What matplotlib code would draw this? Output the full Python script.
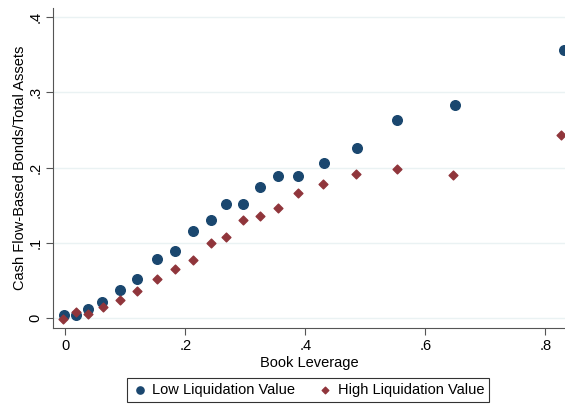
import matplotlib
matplotlib.use('Agg')
import matplotlib.pyplot as plt

plt.rcParams['font.family'] = ['Liberation Sans', 'DejaVu Sans']

# binned scatter: book leverage vs cash flow-based bonds / total assets
low_x = [-0.002, 0.018, 0.037, 0.061, 0.091, 0.119, 0.152, 0.183, 0.213, 0.242,
         0.268, 0.296, 0.325, 0.355, 0.388, 0.431, 0.486, 0.553, 0.650, 0.831]
low_y = [0.004, 0.004, 0.012, 0.021, 0.038, 0.052, 0.079, 0.090, 0.116, 0.130,
         0.152, 0.152, 0.174, 0.189, 0.189, 0.206, 0.226, 0.263, 0.283, 0.357]
high_x = [-0.004, 0.018, 0.037, 0.062, 0.091, 0.119, 0.152, 0.183, 0.213, 0.242,
          0.268, 0.296, 0.324, 0.354, 0.388, 0.429, 0.485, 0.553, 0.646, 0.826]
high_y = [-0.001, 0.008, 0.006, 0.015, 0.024, 0.036, 0.052, 0.065, 0.078, 0.100,
          0.108, 0.130, 0.136, 0.147, 0.166, 0.179, 0.192, 0.198, 0.190, 0.244]

xticks = [0, 0.2, 0.4, 0.6, 0.8]
xlabels = ['0', '.2', '.4', '.6', '.8']
yticks = [0, 0.1, 0.2, 0.3, 0.4]
ylabels = ['0', '.1', '.2', '.3', '.4']

navy = '#1a476f'
maroon = '#90353b'

fig = plt.figure(figsize=(5.65, 4.05), dpi=100)
ax = fig.add_axes([0.0944, 0.19, 0.906, 0.79])

ax.scatter(low_x, low_y, s=48, marker='o', color=navy, label='Low Liquidation Value', zorder=3)
ax.scatter(high_x, high_y, s=20, marker='D', color=maroon, label='High Liquidation Value', zorder=3)

ax.set_xlim(-0.02, 0.833)
ax.set_ylim(-0.013, 0.412)
ax.set_xticks(xticks)
ax.set_xticklabels(xlabels)
ax.set_yticks(yticks)
ax.set_yticklabels(ylabels, rotation=90, va='center')
ax.grid(axis='y', color='#eaf2f3', linewidth=1)
ax.set_axisbelow(True)

for side in ['top', 'right']:
    ax.spines[side].set_visible(False)
for side in ['left', 'bottom']:
    ax.spines[side].set_color('#555555')
ax.tick_params(direction='out', length=5, color='#555555', labelsize=10.5, pad=3)

ax.set_xlabel('Book Leverage', fontsize=10.5, labelpad=2)
ax.set_ylabel('Cash Flow-Based Bonds/Total Assets', fontsize=10.5, labelpad=1)

leg = fig.legend(loc='center', bbox_to_anchor=(0.545, 0.037), ncol=2, fontsize=10.5,
                 frameon=True, fancybox=False, edgecolor='black', handletextpad=0.3,
                 columnspacing=1.5, borderpad=0.35, handlelength=1.1, markerscale=0.75)
leg.get_frame().set_linewidth(0.8)

fig.savefig('out.png', dpi=100)
